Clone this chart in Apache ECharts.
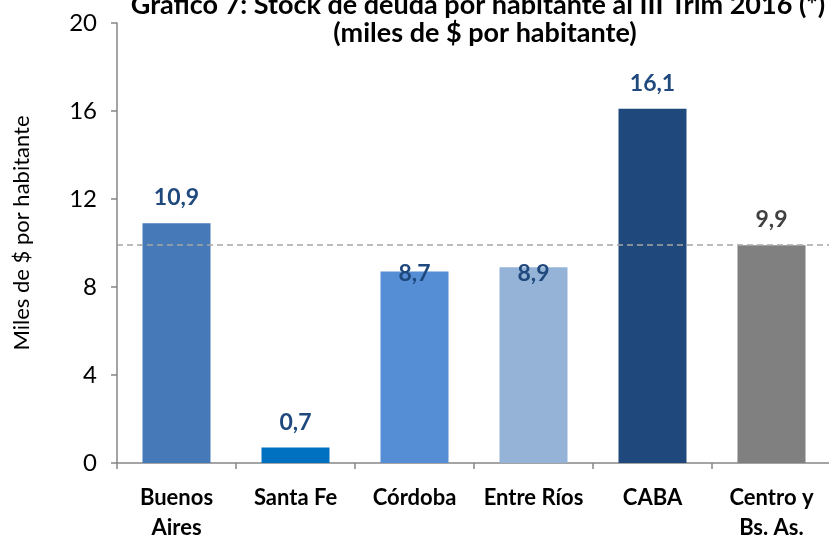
<!DOCTYPE html>
<html>
<head>
<meta charset="utf-8">
<script src="https://cdn.jsdelivr.net/npm/echarts@6/dist/echarts.min.js"></script>
<style>
  html, body { margin: 0; padding: 0; background: #fff; }
  #chart { width: 829px; height: 537px; }
</style>
</head>
<body>
<div id="chart"></div>
<script>
// data
const categories = ['Buenos\nAires', 'Santa Fe', 'Córdoba', 'Entre Ríos', 'CABA', 'Centro y\nBs. As.']
const values = [10.9, 0.7, 8.7, 8.9, 16.1, 9.9]
const averageLine = 9.9
const yTicks = [0, 4, 8, 12, 16, 20]

const barColors = ['#4679B8', '#0070C0', '#558ED5', '#95B3D7', '#1F497D', '#808080']
const labelColors = ['#1F497D', '#1F497D', '#1F497D', '#1F497D', '#1F497D', '#404040']
// Córdoba / Entre Ríos labels sit down on the bar top to dodge the dashed line
const labelShift = [0, 0, 27, 32, 0, 0]

const font = 'Lato, "Liberation Sans", sans-serif'

const chart = echarts.init(document.getElementById('chart'), null, { renderer: 'canvas' })

chart.setOption({
  animation: false,
  backgroundColor: '#fff',
  grid: { left: 117, right: -2, top: 23, bottom: 74, containLabel: false, outerBoundsMode: 'none' },
  graphic: [
    {
      type: 'text',
      style: {
        text: 'Gráfico 7: Stock de deuda por habitante al III Trim 2016 (*)',
        x: 478, y: 5, align: 'center', verticalAlign: 'middle',
        font: 'bold 27px ' + font, fill: '#000',
      },
    },
    {
      type: 'text',
      style: {
        text: '(miles de $ por habitante)',
        x: 485, y: 33, align: 'center', verticalAlign: 'middle',
        font: 'bold 27px ' + font, fill: '#000',
      },
    },
    {
      type: 'text',
      rotation: Math.PI / 2,
      x: 22, y: 233,
      style: {
        text: 'Miles de $ por habitante',
        align: 'center', verticalAlign: 'middle',
        font: '22px ' + font, fill: '#000',
      },
    },
  ],
  xAxis: {
    type: 'category',
    data: categories,
    axisLine: { lineStyle: { color: '#868686', width: 1.5 } },
    axisTick: { show: true, length: 6, lineStyle: { color: '#868686', width: 1.5 } },
    axisLabel: {
      color: '#000', fontFamily: font, fontWeight: 'bold', fontSize: 22,
      lineHeight: 30, margin: 20, interval: 0,
    },
  },
  yAxis: {
    type: 'value',
    min: yTicks[0],
    max: yTicks[yTicks.length - 1],
    interval: 4,
    axisLine: { show: true, lineStyle: { color: '#868686', width: 1.5 } },
    axisTick: { show: true, length: 6, lineStyle: { color: '#868686', width: 1.5 } },
    splitLine: { show: false },
    axisLabel: { color: '#000', fontFamily: font, fontSize: 24, margin: 20 },
  },
  series: [
    {
      type: 'bar',
      barWidth: 68,
      data: values.map((v, i) => ({
        value: v,
        itemStyle: { color: barColors[i] },
        label: { color: labelColors[i], offset: [0, labelShift[i]] },
      })),
      label: {
        show: true,
        position: 'top',
        distance: 14,
        fontFamily: font,
        fontWeight: 'bold',
        fontSize: 23,
        formatter: p => String(p.value).replace('.', ','),
      },
      markLine: {
        silent: true,
        symbol: 'none',
        label: { show: false },
        lineStyle: { color: '#A6A6A6', type: [6, 4], width: 1.5 },
        data: [{ yAxis: averageLine }],
      },
    },
  ],
})
</script>
</body>
</html>
